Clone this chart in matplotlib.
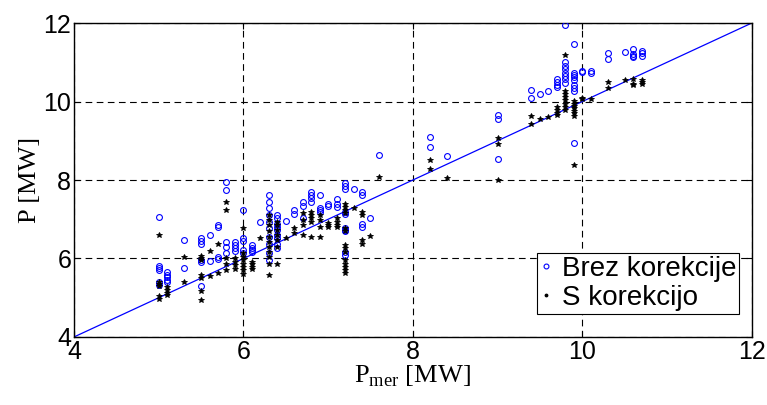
import matplotlib
matplotlib.use("Agg")
import matplotlib.pyplot as plt
from matplotlib.lines import Line2D

# izmerjene moci (stolpci) in izracunane vrednosti brez / s korekcijo
p_mer = [5.0, 5.1, 5.3, 5.5, 5.6, 5.7, 5.8, 5.9, 6.0, 6.1, 6.2, 6.3, 6.4, 6.5,
         6.6, 6.7, 6.8, 6.9, 7.0, 7.1, 7.2, 7.3, 7.4, 7.5, 7.6, 8.2, 8.4, 9.0,
         9.4, 9.5, 9.6, 9.7, 9.8, 9.9, 10.0, 10.1, 10.3, 10.5, 10.6, 10.7]

brez_kor = [
    [7.06, 5.80, 5.75, 5.70, 5.40, 5.33],
    [5.66, 5.59, 5.53, 5.46, 5.40],
    [6.46, 5.77],
    [6.51, 6.44, 6.37, 5.96, 5.90, 5.30],
    [6.60, 5.94],
    [6.85, 6.81, 6.04, 5.99],
    [7.95, 7.75, 6.43, 6.30, 6.13],
    [6.42, 6.34, 6.26, 6.19],
    [7.23, 6.51, 6.45, 6.21, 6.13],
    [6.34, 6.28, 6.21, 6.17],
    [6.94],
    [7.62, 7.45, 7.28, 7.11, 6.94, 6.77, 6.55, 6.38, 6.13, 5.96],
    [7.11, 7.02, 6.89, 6.81, 6.72, 6.59, 6.51, 6.38, 6.26],
    [6.96],
    [7.23, 7.13],
    [7.45, 7.33, 7.02],
    [7.70, 7.62, 7.53, 7.45],
    [7.62, 7.28, 7.23, 7.19],
    [7.40, 7.33],
    [7.51, 7.40, 7.32],
    [7.93, 7.84, 7.76, 7.19, 7.13, 6.77, 6.72, 6.69, 6.17, 6.08],
    [7.78],
    [7.70, 7.62, 6.89, 6.81],
    [7.02],
    [8.63],
    [9.10, 8.85],
    [8.62],
    [9.67, 9.55, 8.53],
    [10.29, 10.08],
    [10.19],
    [10.28],
    [10.57, 10.50, 10.42, 10.36],
    [11.95, 11.00, 10.91, 10.82, 10.74, 10.65, 10.57, 10.48],
    [11.47, 10.74, 10.68, 10.62, 10.55, 10.42, 10.34, 10.28, 8.95],
    [10.79, 10.75],
    [10.79, 10.72],
    [11.23, 11.08],
    [11.27],
    [11.33, 11.20, 11.16, 11.13],
    [11.30, 11.23, 11.17],
]

s_kor = [
    [6.59, 5.40, 5.35, 5.30, 5.05, 4.97],
    [5.28, 5.19, 5.12, 5.06],
    [6.04, 5.40],
    [6.06, 6.00, 5.96, 5.57, 5.51, 5.17, 4.95],
    [6.20, 5.55],
    [6.38, 5.63],
    [7.44, 7.24, 6.01, 5.87, 5.71],
    [6.00, 5.91, 5.83, 5.74],
    [6.77, 6.13, 6.04, 5.96, 5.87, 5.79, 5.70, 5.60],
    [5.91, 5.85, 5.79, 5.72],
    [6.51],
    [7.11, 6.98, 6.85, 6.69, 6.55, 6.42, 6.30, 6.17, 6.04, 5.87, 5.57],
    [6.94, 6.85, 6.72, 6.59, 6.47, 6.30, 5.85],
    [6.51],
    [6.77, 6.65],
    [7.15, 6.98, 6.85, 6.59],
    [7.19, 7.11, 7.02, 6.94, 6.54],
    [7.11, 6.98, 6.81, 6.54],
    [6.91, 6.85, 6.79],
    [7.02, 6.94, 6.85, 6.79],
    [7.40, 7.32, 7.23, 7.15, 6.77, 6.69, 6.34, 6.26, 6.17, 5.96, 5.87, 5.79, 5.70, 5.62],
    [7.28],
    [7.19, 7.11, 6.47, 6.38],
    [6.57],
    [8.08],
    [8.51, 8.27],
    [8.06],
    [9.06, 8.92, 8.00],
    [9.63, 9.44],
    [9.55],
    [9.60],
    [9.85, 9.78, 9.71, 9.66],
    [11.19, 10.28, 10.19, 10.11, 10.03, 9.94, 9.85, 9.79],
    [10.02, 9.95, 9.89, 9.83, 9.77, 9.70, 9.63, 8.38],
    [10.08, 10.06],
    [10.06],
    [10.49, 10.35],
    [10.55],
    [10.57, 10.46, 10.42],
    [10.55, 10.50, 10.45],
]

meje = [4, 12]
ticki = [4, 6, 8, 10, 12]

# razpakiraj v ravne sezname
x_brez, y_brez, x_s, y_s = [], [], [], []
for x, yb, ys in zip(p_mer, brez_kor, s_kor):
    x_brez += [x] * len(yb)
    y_brez += yb
    x_s += [x] * len(ys)
    y_s += ys

plt.rcParams['font.family'] = ['Liberation Sans', 'DejaVu Sans']
plt.rcParams['mathtext.fontset'] = 'custom'
plt.rcParams['mathtext.rm'] = 'Liberation Serif'

fig = plt.figure(figsize=(7.67, 4.05), dpi=100)
ax = fig.add_axes([0.0965, 0.168, 0.8835, 0.775])

ax.plot(meje, meje, '-', color='#0000ff', linewidth=0.9, zorder=2)
ax.plot(x_brez, y_brez, 'o', markerfacecolor='none', markeredgecolor='#0000ff',
        markersize=4.2, markeredgewidth=0.8, linestyle='none', zorder=3)
ax.plot(x_s, y_s, '*', color='k', markersize=4, markeredgewidth=0.6,
        linestyle='none', zorder=4)

ax.set_xlim(meje)
ax.set_ylim(meje)
ax.set_xticks(ticki)
ax.set_yticks(ticki)
ax.tick_params(direction='in', length=4, width=0.8, labelsize=18, pad=2,
               top=True, right=True)
ax.grid(True, color='k', linestyle=(0, (6, 4)), linewidth=0.8)
ax.set_axisbelow(True)
for s in ax.spines.values():
    s.set_linewidth(1.0)

ax.set_xlabel(r'P$_{\mathrm{mer}}$ [MW]', fontsize=19, family='Liberation Serif',
              labelpad=0)
ax.set_ylabel('P [MW]', fontsize=19, family='Liberation Serif', labelpad=2)

h1 = Line2D([], [], marker='o', markerfacecolor='none', markeredgecolor='#0000ff',
            markersize=3.5, markeredgewidth=0.8, linestyle='none')
h2 = Line2D([], [], marker='.', color='k', markersize=3.5, linestyle='none')
leg = ax.legend([h1, h2], ['Brez korekcije', 'S korekcijo'], loc='lower right',
                fontsize=20, frameon=True, fancybox=False, edgecolor='k',
                framealpha=1, handlelength=0.5, handletextpad=0.3,
                borderpad=0.1, labelspacing=0.1, borderaxespad=0.0,
                bbox_to_anchor=(0.981, 0.074))
leg.get_frame().set_linewidth(0.8)

fig.savefig('out.png', dpi=100)
